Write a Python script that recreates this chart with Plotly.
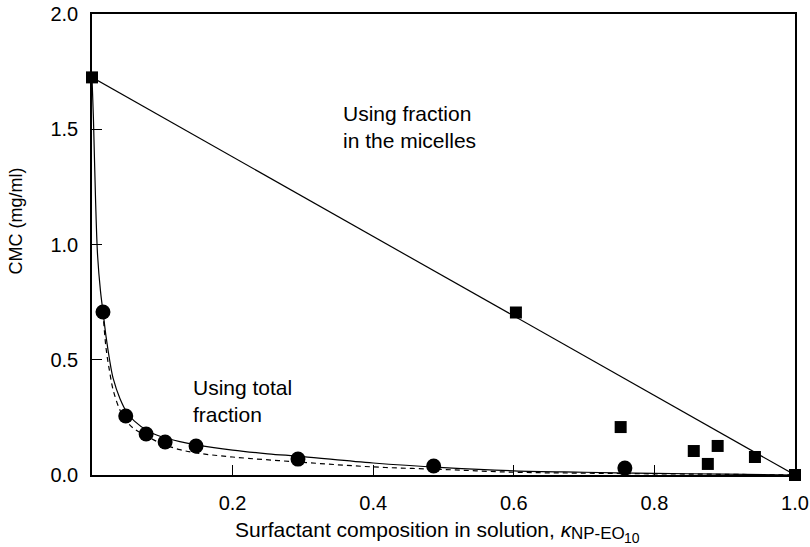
import plotly.graph_objects as go

# Data
micelle_x = [0.0, 0.603, 0.752, 0.856, 0.876, 0.890, 0.943, 1.0]
micelle_y = [1.725, 0.705, 0.208, 0.104, 0.048, 0.126, 0.078, 0.0]

total_x = [0.0156, 0.048, 0.077, 0.104, 0.148, 0.293, 0.486, 0.758]
total_y = [0.707, 0.256, 0.178, 0.143, 0.126, 0.069, 0.039, 0.030]

line_micelle_x = [0.0, 1.0]
line_micelle_y = [1.725, 0.0]

solid_x = [0.0, 0.002, 0.005, 0.008, 0.012, 0.016, 0.02, 0.025, 0.03, 0.04, 0.05, 0.06,
           0.08, 0.1, 0.125, 0.15, 0.2, 0.25, 0.3, 0.4, 0.5, 0.6, 0.7, 0.8, 0.9, 1.0]
solid_y = [1.725, 1.55, 1.2, 0.95, 0.8, 0.7, 0.6, 0.5, 0.42, 0.33, 0.27, 0.235,
           0.19, 0.165, 0.145, 0.13, 0.108, 0.092, 0.08, 0.052, 0.032, 0.018, 0.012, 0.007, 0.004, 0.0]

dashed_x = [0.0156, 0.02, 0.025, 0.03, 0.04, 0.05, 0.06, 0.08, 0.1, 0.125, 0.15, 0.2,
            0.3, 0.4, 0.5, 0.6, 0.7, 0.8, 0.9, 1.0]
dashed_y = [0.707, 0.55, 0.45, 0.37, 0.28, 0.23, 0.2, 0.165, 0.135, 0.11, 0.095, 0.078,
            0.055, 0.035, 0.024, 0.012, 0.008, 0.005, 0.003, 0.0]

x_ticks = [0.2, 0.4, 0.6, 0.8, 1.0]
x_ticktext = ["0.2", "0.4", "0.6", "0.8", "1.0"]
y_ticks = [0.0, 0.5, 1.0, 1.5, 2.0]
y_ticktext = ["0.0", "0.5", "1.0", "1.5", "2.0"]

FONT = "Liberation Sans, Arial, Helvetica, sans-serif"

fig = go.Figure()
fig.add_trace(go.Scatter(x=line_micelle_x, y=line_micelle_y, mode="lines",
                         line=dict(color="black", width=1.2), showlegend=False, cliponaxis=False))
fig.add_trace(go.Scatter(x=solid_x, y=solid_y, mode="lines", line_shape="spline",
                         line=dict(color="black", width=1.2), showlegend=False, cliponaxis=False))
fig.add_trace(go.Scatter(x=dashed_x, y=dashed_y, mode="lines", line_shape="spline",
                         line=dict(color="black", width=1.2, dash="5px,4px"), showlegend=False, cliponaxis=False))
fig.add_trace(go.Scatter(x=micelle_x, y=micelle_y, mode="markers",
                         marker=dict(symbol="square", size=12, color="black"), showlegend=False, cliponaxis=False))
fig.add_trace(go.Scatter(x=total_x, y=total_y, mode="markers",
                         marker=dict(symbol="circle", size=15, color="black"), showlegend=False, cliponaxis=False))

fig.update_layout(
    width=810, height=547,
    margin=dict(l=92, r=15, t=14, b=72, autoexpand=False),
    paper_bgcolor="white", plot_bgcolor="white",
    font=dict(family=FONT, size=20, color="black"),
    xaxis=dict(range=[0, 1.0], tickvals=x_ticks, ticktext=x_ticktext, ticks="inside",
               ticklen=10, tickwidth=1, tickcolor="black", showline=True, linecolor="black",
               linewidth=1.5, mirror=True, showgrid=False, zeroline=False, automargin=False,
               ticklabelstandoff=9, tickfont=dict(size=20)),
    yaxis=dict(range=[0, 2.0], tickvals=y_ticks, ticktext=y_ticktext, ticks="inside",
               ticklen=10, tickwidth=1, tickcolor="black", showline=True, linecolor="black",
               linewidth=1.5, mirror=True, showgrid=False, zeroline=False, automargin=False,
               ticklabelstandoff=8, tickfont=dict(size=20)),
    annotations=[
        dict(text="CMC (mg/ml)", xref="paper", yref="paper", x=-0.108, y=0.55,
             textangle=-90, showarrow=False, font=dict(size=18), xanchor="center", yanchor="middle"),
        dict(text="Surfactant composition in solution, <i>κ</i>", xref="paper", yref="paper",
             x=0.6856, y=-0.1193, xanchor="right", yanchor="middle", showarrow=False,
             font=dict(size=21), borderpad=0),
        dict(text="NP-EO", xref="paper", yref="paper",
             x=0.6800, y=-0.1275, xanchor="left", yanchor="middle", showarrow=False,
             font=dict(size=17), borderpad=0),
        dict(text="10", xref="paper", yref="paper",
             x=0.7550, y=-0.1360, xanchor="left", yanchor="middle", showarrow=False,
             font=dict(size=14), borderpad=0),
        dict(text="Using fraction<br>in the micelles", xref="x", yref="y", x=0.354, y=1.51,
             xanchor="left", yanchor="middle", align="left", showarrow=False, font=dict(size=21)),
        dict(text="Using total<br>fraction", xref="x", yref="y", x=0.141, y=0.32,
             xanchor="left", yanchor="middle", align="left", showarrow=False, font=dict(size=21)),
    ],
)

fig.write_html("out.html", config={"displayModeBar": False},
               post_script="document.body.style.margin='0';")
